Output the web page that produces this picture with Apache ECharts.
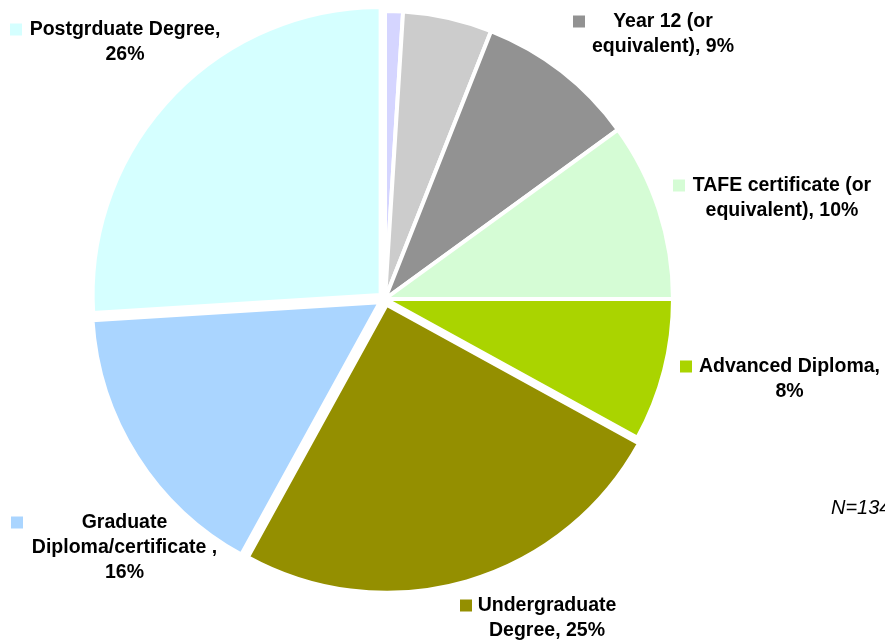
<!DOCTYPE html>
<html>
<head>
<meta charset="UTF-8">
<title>Education pie</title>
<script src="https://cdn.jsdelivr.net/npm/echarts@6/dist/echarts.min.js"></script>
</head>
<body style="margin:0;background:#fff;">
<div id="chart1" style="width:885px;height:643px;"></div>
<script type="text/javascript">
// categories and shares (%), clockwise from 12 o'clock
var names = ['Other', 'Year 11', 'Year 12 (or equivalent)', 'TAFE certificate (or equivalent)',
    'Advanced Diploma', 'Undergraduate Degree', 'Graduate Diploma/certificate', 'Postgrduate Degree'];
var values = [1, 5, 9, 10, 8, 25, 16, 26];
// label text lines (last line carries the value)
var labelLines = [
    null,
    null,
    ['Year 12 (or', 'equivalent), {v}%'],
    ['TAFE certificate (or', 'equivalent), {v}%'],
    ['Advanced Diploma,', '{v}%'],
    ['Undergraduate', 'Degree, {v}%'],
    ['Graduate', 'Diploma/certificate ,', '{v}%'],
    ['Postgrduate Degree,', '{v}%']
];
var exploded = [false, false, false, false, false, true, true, true];

var colors = ['#d5d5ff', '#cccccc', '#929292', '#d5fcd5', '#aad400', '#948f00', '#aad5ff', '#d5ffff'];
// label box: left, top, text width
var labelBox = [null, null, [573, 9, 156], [673, 173, 194], [680, 354, 195],
    [460, 593, 150], [11, 510, 203], [10, 17, 206]];

var chart1 = echarts.init(document.getElementById('chart1'));

// slices (exploded ones are "selected")
var sliceData = names.map(function (n, i) {
    return {
        name: n,
        value: values[i],
        selected: exploded[i],
        itemStyle: { color: colors[i] }
    };
});

// same data again, invisible, only to carry the labels
var labelData = names.map(function (n, i) {
    var item = { name: n, value: values[i] };
    if (labelLines[i]) {
        var lines = labelLines[i].map(function (s, k) {
            s = s.replace('{v}', values[i]);
            return (k === 0 ? '{sq|}' : '{b|}') + '{t|' + s + '}';
        });
        item.label = {
            show: true,
            formatter: lines.join('\n'),
            rich: {
                sq: { width: 12, height: 12, backgroundColor: colors[i] },
                b: { width: 12 },
                t: {
                    width: labelBox[i][2], align: 'center',
                    fontSize: 19.5, fontWeight: 'bold', color: '#000',
                    fontFamily: 'Liberation Sans, Arial, sans-serif', lineHeight: 25
                }
            }
        };
    } else {
        item.label = { show: false };
    }
    return item;
});

var option = {
    backgroundColor: '#fff',
    animation: false,
    title: {
        text: 'N=134',
        left: 826,
        top: 493,
        textStyle: {
            fontSize: 20,
            fontStyle: 'italic',
            fontWeight: 'normal',
            color: '#000',
            fontFamily: 'Liberation Sans, Arial, sans-serif'
        }
    },
    series: [{
        type: 'pie',
        center: [385, 299],
        radius: [0, 288],
        startAngle: 90,
        clockwise: true,
        selectedMode: 'multiple',
        selectedOffset: 6,
        silent: true,
        itemStyle: { borderColor: '#fff', borderWidth: 4 },
        label: { show: false },
        labelLine: { show: false },
        data: sliceData
    }, {
        type: 'pie',
        center: [385, 299],
        radius: [0, 288],
        startAngle: 90,
        clockwise: true,
        silent: true,
        avoidLabelOverlap: false,
        itemStyle: { color: 'rgba(0,0,0,0)' },
        labelLine: { show: false },
        label: { position: 'outside', alignTo: 'none', overflow: 'none', bleedMargin: 0, lineHeight: 25 },
        labelLayout: function (params) {
            var b = labelBox[params.dataIndex];
            if (!b) return {};
            return { x: b[0], y: b[1], align: 'left', verticalAlign: 'top', hideOverlap: false };
        },
        data: labelData
    }]
};
chart1.setOption(option);
</script>
</body>
</html>
